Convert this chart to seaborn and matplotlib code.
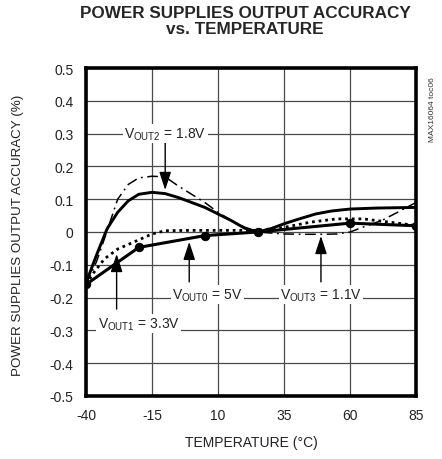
import matplotlib
matplotlib.use("Agg")
import matplotlib.pyplot as plt
import seaborn as sns

# temperature (degC) / output accuracy (%)
temp_out2 = [-40, -36, -32, -28, -24, -20, -15, -10, -5, 0, 5, 10, 15, 20, 25, 30, 35, 40, 47, 53, 60, 70, 85]
acc_out2 = [-0.155, -0.07, 0.01, 0.06, 0.095, 0.115, 0.121, 0.117, 0.105, 0.09, 0.075, 0.055, 0.035, 0.012, 0.0,
            0.01, 0.025, 0.038, 0.055, 0.064, 0.07, 0.073, 0.075]

temp_out3 = [-40, -36, -33, -28, -24, -20, -15, -10, -5, 0, 5, 10, 15, 20, 25, 30, 35, 42, 50, 55, 60, 65, 72, 78, 85]
acc_out3 = [-0.16, -0.09, -0.02, 0.10, 0.145, 0.165, 0.17, 0.168, 0.14, 0.115, 0.09, 0.06, 0.035, 0.015, 0.0,
            -0.003, -0.006, -0.007, -0.007, -0.006, 0.0, 0.015, 0.035, 0.06, 0.09]

temp_out0 = [-40, -37, -33, -28, -22, -15, -10, 0, 10, 25, 35, 45, 55, 65, 75, 85]
acc_out0 = [-0.16, -0.123, -0.082, -0.052, -0.031, -0.006, 0.004, 0.005, 0.005, 0.005, 0.014, 0.03, 0.04, 0.04,
            0.03, 0.02]

temp_out1 = [-40, -20, 5, 25, 60, 85]
acc_out1 = [-0.16, -0.047, -0.011, 0.0, 0.027, 0.019]

x_ticks = [-40, -15, 10, 35, 60, 85]
y_ticks = [-0.5, -0.4, -0.3, -0.2, -0.1, 0, 0.1, 0.2, 0.3, 0.4, 0.5]
y_ticklabels = ["-0.5", "-0.4", "-0.3", "-0.2", "-0.1", "0", "0.1", "0.2", "0.3", "0.4", "0.5"]

sns.set_style("white")
plt.rcParams["font.family"] = ["Liberation Sans", "DejaVu Sans"]
plt.rcParams["mathtext.fontset"] = "custom"
plt.rcParams["mathtext.rm"] = "Liberation Sans"

fig = plt.figure(figsize=(4.42, 4.60), dpi=100)
ax = fig.add_axes([86 / 442, 1 - 397 / 460, 330 / 442, 328 / 460])

# curves
sns.lineplot(x=temp_out2, y=acc_out2, ax=ax, color="black", lw=2.1, sort=False)
sns.lineplot(x=temp_out3, y=acc_out3, ax=ax, color="black", lw=1.1, sort=False,
             linestyle=(0, (7, 3, 1.2, 3)))
sns.lineplot(x=temp_out0, y=acc_out0, ax=ax, color="black", lw=2.0, sort=False,
             linestyle=(0, (1, 1.4)))
sns.lineplot(x=temp_out1, y=acc_out1, ax=ax, color="black", lw=2.2, sort=False,
             marker="o", markersize=6, markeredgecolor="black")

ax.set_xlim(-40, 85)
ax.set_ylim(-0.5, 0.5)
ax.set_xticks(x_ticks)
ax.set_xticklabels([str(t) for t in x_ticks])
ax.set_yticks(y_ticks)
ax.set_yticklabels(y_ticklabels)
ax.tick_params(length=0, labelsize=10, pad=9, colors="#222222")
ax.grid(True, color="#4a4a4a", lw=0.9)
ax.set_axisbelow(True)
for sp in ax.spines.values():
    sp.set_linewidth(2.6)
    sp.set_color("black")

# labels with arrows
box = dict(facecolor="white", edgecolor="none", pad=1.0)
lbl = dict(fontsize=10, ha="center", va="center", color="#222222", bbox=box, zorder=5)
arr = dict(arrowstyle="-|>,head_length=1.1,head_width=0.36", color="black", lw=1.0, mutation_scale=10,
           shrinkA=0, shrinkB=0)

ax.text(-10, 0.3, r"V$_{\mathrm{OUT2}}$ = 1.8V", **lbl)
ax.annotate("", xy=(-10, 0.128), xytext=(-10, 0.28), arrowprops=arr)

ax.text(-20, -0.28, r"V$_{\mathrm{OUT1}}$ = 3.3V", **lbl)
ax.annotate("", xy=(-28.4, -0.067), xytext=(-28.4, -0.235), arrowprops=arr)

ax.text(6, -0.19, r"V$_{\mathrm{OUT0}}$ = 5V", **lbl)
ax.annotate("", xy=(-0.9, -0.03), xytext=(-0.9, -0.152), arrowprops=arr)

ax.text(49, -0.19, r"V$_{\mathrm{OUT3}}$ = 1.1V", **lbl)
ax.annotate("", xy=(49, -0.012), xytext=(49, -0.152), arrowprops=arr)

ax.set_xlabel("")
ax.set_ylabel("")

fig.text(245 / 442, 1 - 6 / 460, "POWER SUPPLIES OUTPUT ACCURACY\nvs. TEMPERATURE",
         ha="center", va="top", fontsize=12.3, fontweight="bold", linespacing=1.05)
fig.text(18 / 442, 1 - 235 / 460, "POWER SUPPLIES OUTPUT ACCURACY (%)", rotation=90,
         ha="center", va="center", fontsize=9.6, color="#222222")
fig.text(251 / 442, 1 - 443 / 460, "TEMPERATURE (\u00b0C)", ha="center", va="center",
         fontsize=10, color="#222222")
fig.text(432 / 442, 1 - 110 / 460, "MAX16064 toc06", rotation=90, ha="center", va="center",
         fontsize=6, color="#333333")

fig.savefig("out.png", dpi=100)
